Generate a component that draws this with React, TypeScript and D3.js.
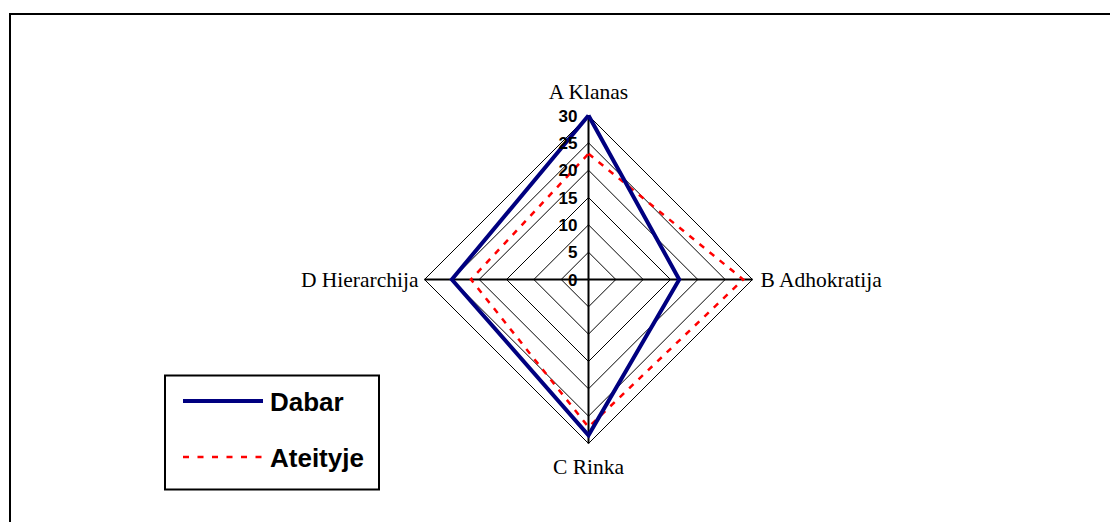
import React from "react";
import * as d3 from "d3";

const categories = ["A Klanas", "B Adhokratija", "C Rinka", "D Hierarchija"];
const dabar = [30, 16.6, 28.5, 25];
const ateityje = [23, 28.3, 27, 21.5];
const ticks = [0, 5, 10, 15, 20, 25, 30];
const seriesNames = ["Dabar", "Ateityje"];

const W = 1110;
const H = 522;
const cx = 588.5;
const cy = 279.5;

export default function App() {
  const r = d3.scaleLinear().domain([0, 30]).range([0, 164]);
  const angle = d3.scaleBand<string>().domain(categories).range([0, 2 * Math.PI]).align(0).paddingInner(0).paddingOuter(0);
  const ang = (i: number) => (angle(categories[i]) as number);
  const pt = (i: number, v: number): [number, number] => {
    const a = ang(i);
    return [cx + r(v) * Math.sin(a), cy - r(v) * Math.cos(a)];
  };
  const closed = (vals: number[]) => {
    const pts = vals.map((v, i) => pt(i, v));
    return d3.line()([...pts, pts[0]]) as string;
  };
  const gridTicks = ticks.filter((t) => t > 0);

  const labelPos = [
    { dx: 0, dy: -17, anchor: "middle" },
    { dx: 8, dy: 7, anchor: "start" },
    { dx: 0, dy: 30, anchor: "middle" },
    { dx: -6, dy: 7, anchor: "end" },
  ];

  return (
    <svg width={W} height={H} style={{ position: "absolute", left: 0, top: 0 }}>
      <rect x={0} y={0} width={W} height={H} fill="#fff" />
      <path d={`M10,${H + 5} L10,14 L${W + 5},14`} fill="none" stroke="#000" strokeWidth={2} />
      {gridTicks.map((t) => (
        <path key={t} d={closed(categories.map(() => t))} fill="none" stroke="#000" strokeWidth={1} />
      ))}
      {categories.map((c, i) => {
        const [x, y] = pt(i, 30);
        return <line key={c} x1={cx} y1={cy} x2={x} y2={y} stroke="#000" strokeWidth={2} />;
      })}
      <path d={closed(ateityje)} fill="none" stroke="#ff0000" strokeWidth={2.5} strokeDasharray="6,7" />
      <path d={closed(dabar)} fill="none" stroke="#000080" strokeWidth={4} strokeLinejoin="miter" />
      {ticks.map((t) => (
        <text key={t} x={cx - 11} y={cy - r(t) + 6} textAnchor="end" fontFamily="Liberation Sans, Arial" fontWeight="bold" fontSize={17} fill="#000">
          {t}
        </text>
      ))}
      {categories.map((c, i) => {
        const [x, y] = pt(i, 30);
        const p = labelPos[i];
        return (
          <text key={c} x={x + p.dx} y={y + p.dy} textAnchor={p.anchor as any} fontFamily="Liberation Serif, Times New Roman" fontSize={21.5} fill="#000">
            {c}
          </text>
        );
      })}
      <rect x={165} y={375.5} width={214} height={114} fill="#fff" stroke="#000" strokeWidth={2} />
      {seriesNames.map((s, i) => {
        const y = i === 0 ? 401 : 457;
        return (
          <g key={s}>
            <line x1={183} x2={263} y1={y} y2={y} stroke={i === 0 ? "#000080" : "#ff0000"} strokeWidth={i === 0 ? 4 : 2.5} strokeDasharray={i === 0 ? undefined : "6,8.5"} />
            <text x={270} y={y + 10} fontFamily="Liberation Sans, Arial" fontWeight="bold" fontSize={26} fill="#000">
              {s}
            </text>
          </g>
        );
      })}
    </svg>
  );
}
